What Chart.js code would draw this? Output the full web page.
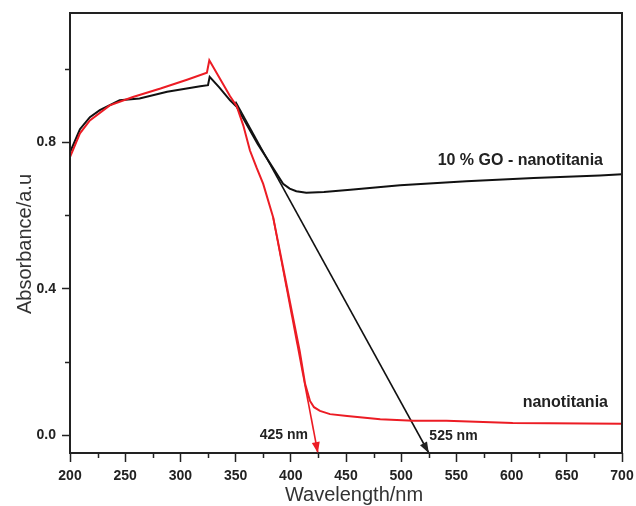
<!DOCTYPE html>
<html>
<head>
<meta charset="utf-8">
<script src="https://cdn.jsdelivr.net/npm/chart.js@4/dist/chart.umd.min.js"></script>
<style>
  html, body { margin: 0; padding: 0; background: #fff; }
  #wrap { width: 636px; height: 506px; }
</style>
</head>
<body>
<div id="wrap"><canvas id="uvChart" width="636" height="506"></canvas></div>
<script>
// UV-vis absorbance spectra
const goWavelength = [200, 209, 218, 227, 245, 263, 288, 318, 325, 326.5, 335, 345, 351, 370, 393, 399, 405, 414, 430, 454, 499, 559, 620, 680, 700];
const goAbsorbance = [0.772, 0.835, 0.868, 0.887, 0.914, 0.919, 0.937, 0.952, 0.955, 0.978, 0.95, 0.914, 0.896, 0.795, 0.686, 0.673, 0.666, 0.662, 0.664, 0.670, 0.682, 0.693, 0.702, 0.709, 0.712];

const tiWavelength = [200, 209, 218, 236, 257, 282, 306, 324, 326.2, 345, 351, 357, 363, 369, 375, 384, 390, 396, 402, 408, 413, 417.4, 421, 426.4, 435.5, 451, 481, 511, 541, 601, 700];
const tiAbsorbance = [0.759, 0.824, 0.859, 0.9, 0.923, 0.946, 0.97, 0.989, 1.023, 0.925, 0.898, 0.845, 0.777, 0.73, 0.686, 0.595, 0.504, 0.413, 0.322, 0.231, 0.140, 0.094, 0.077, 0.067, 0.058, 0.053, 0.044, 0.040, 0.040, 0.034, 0.032];

// band-edge extrapolations (start point, then edge on the wavelength axis)
const goEdgeWavelength = [350, 525];
const goEdgeAbsorbance = [0.91, -0.048];
const tiEdgeWavelength = [384, 424.5];
const tiEdgeAbsorbance = [0.595, -0.048];

const xTickValues = [200, 225, 250, 275, 300, 325, 350, 375, 400, 425, 450, 475, 500, 525, 550, 575, 600, 625, 650, 675, 700];
const yTickValues = [0, 0.2, 0.4, 0.6, 0.8, 1.0];
const xRange = [200, 700];
const yRange = [-0.048, 1.152];

const FONT = '"Liberation Sans", Arial, Helvetica, sans-serif';
const INK = '#222';
const RED = '#ec1c24';

const toPoints = (xs, ys) => xs.map((x, i) => ({ x, y: ys[i] }));

const isMajorX = (v) => Math.round(v) % 50 === 0;
const isMajorY = (v) => Math.round(v * 10) % 4 === 0;

function drawArrowHead(ctx, from, to, color) {
  const ang = Math.atan2(to.y - from.y, to.x - from.x);
  const len = 11, half = 4;
  ctx.save();
  ctx.fillStyle = color;
  ctx.translate(to.x, to.y);
  ctx.rotate(ang);
  ctx.beginPath();
  ctx.moveTo(0, 0);
  ctx.lineTo(-len, -half);
  ctx.lineTo(-len, half);
  ctx.closePath();
  ctx.fill();
  ctx.restore();
}

const decorations = {
  id: 'decorations',
  afterDraw(chart) {
    const { ctx, chartArea: a, scales: { x, y } } = chart;
    ctx.save();

    // plot frame
    ctx.strokeStyle = INK;
    ctx.lineWidth = 2;
    ctx.strokeRect(a.left, a.top, a.right - a.left, a.bottom - a.top);

    // short minor ticks
    ctx.lineWidth = 1.5;
    ctx.beginPath();
    x.ticks.forEach((t) => {
      if (isMajorX(t.value)) return;
      const px = Math.round(x.getPixelForValue(t.value)) + 0.5;
      ctx.moveTo(px, a.bottom);
      ctx.lineTo(px, a.bottom + 5);
    });
    y.ticks.forEach((t) => {
      if (isMajorY(t.value)) return;
      const py = Math.round(y.getPixelForValue(t.value)) + 0.5;
      ctx.moveTo(a.left, py);
      ctx.lineTo(a.left - 5, py);
    });
    ctx.stroke();

    // arrowheads at the ends of the edge lines
    const px = (wl, ab) => ({ x: x.getPixelForValue(wl), y: y.getPixelForValue(ab) });
    drawArrowHead(ctx, px(goEdgeWavelength[0], goEdgeAbsorbance[0]), px(goEdgeWavelength[1], goEdgeAbsorbance[1]), INK);
    drawArrowHead(ctx, px(tiEdgeWavelength[0], tiEdgeAbsorbance[0]), px(tiEdgeWavelength[1], tiEdgeAbsorbance[1]), RED);

    // curve and edge labels
    ctx.fillStyle = INK;
    ctx.textBaseline = 'middle';
    ctx.font = `bold 16px ${FONT}`;
    ctx.textAlign = 'left';
    ctx.fillText('10 % GO - nanotitania', x.getPixelForValue(533), y.getPixelForValue(0.75));
    ctx.fillText('nanotitania', x.getPixelForValue(610), y.getPixelForValue(0.09));
    ctx.font = `bold 14px ${FONT}`;
    ctx.textAlign = 'right';
    ctx.fillText('425 nm', x.getPixelForValue(415.5), y.getPixelForValue(0.0));
    ctx.textAlign = 'left';
    ctx.fillText('525 nm', x.getPixelForValue(525.5), y.getPixelForValue(-0.003));

    // axis titles
    ctx.fillStyle = '#333';
    ctx.font = `20px ${FONT}`;
    ctx.textAlign = 'center';
    ctx.fillText('Wavelength/nm', (a.left + a.right) / 2 + 8, 495);
    ctx.translate(25, (a.top + a.bottom) / 2 + 11);
    ctx.rotate(-Math.PI / 2);
    ctx.fillText('Absorbance/a.u', 0, 0);

    ctx.restore();
  }
};

new Chart(document.getElementById('uvChart'), {
  type: 'scatter',
  data: {
    datasets: [
      {
        label: 'nanotitania',
        data: toPoints(tiWavelength, tiAbsorbance),
        showLine: true,
        borderColor: RED,
        borderWidth: 2,
        pointRadius: 0,
        tension: 0
      },
      {
        label: '10 % GO - nanotitania',
        data: toPoints(goWavelength, goAbsorbance),
        showLine: true,
        borderColor: '#111',
        borderWidth: 2,
        pointRadius: 0,
        tension: 0
      },
      {
        label: 'nanotitania edge',
        data: toPoints(tiEdgeWavelength, tiEdgeAbsorbance),
        showLine: true,
        borderColor: RED,
        borderWidth: 1.6,
        pointRadius: 0
      },
      {
        label: 'GO edge',
        data: toPoints(goEdgeWavelength, goEdgeAbsorbance),
        showLine: true,
        borderColor: '#111',
        borderWidth: 1.6,
        pointRadius: 0
      }
    ]
  },
  options: {
    responsive: false,
    animation: false,
    layout: { padding: { top: 13, right: 14, left: 0, bottom: 0 } },
    plugins: { legend: { display: false }, tooltip: { enabled: false } },
    scales: {
      x: {
        type: 'linear',
        min: xRange[0],
        max: xRange[1],
        border: { display: false },
        grid: {
          drawOnChartArea: false,
          tickLength: 9,
          tickWidth: 1.5,
          tickColor: (c) => (c.tick && isMajorX(c.tick.value) ? INK : 'rgba(0,0,0,0)')
        },
        afterBuildTicks: (s) => { s.ticks = xTickValues.map((value) => ({ value })); },
        ticks: {
          autoSkip: false,
          maxRotation: 0,
          padding: 6,
          color: INK,
          font: { family: FONT, size: 14, weight: 'bold' },
          callback: (v) => (isMajorX(v) ? String(v) : '')
        },
        afterFit: (s) => {
          s.height = 53;
          s.paddingLeft = 0;
          s.paddingRight = 0;
        }
      },
      y: {
        type: 'linear',
        min: yRange[0],
        max: yRange[1],
        border: { display: false },
        grid: {
          drawOnChartArea: false,
          tickLength: 8,
          tickWidth: 1.5,
          tickColor: (c) => (c.tick && isMajorY(c.tick.value) ? INK : 'rgba(0,0,0,0)')
        },
        afterBuildTicks: (s) => { s.ticks = yTickValues.map((value) => ({ value })); },
        ticks: {
          padding: 6,
          color: INK,
          font: { family: FONT, size: 14, weight: 'bold' },
          callback: (v) => (isMajorY(v) ? v.toFixed(1) : '')
        },
        afterFit: (s) => {
          s.width = 70;
          s.paddingTop = 0;
          s.paddingBottom = 0;
        }
      }
    }
  },
  plugins: [decorations]
});
</script>
</body>
</html>
